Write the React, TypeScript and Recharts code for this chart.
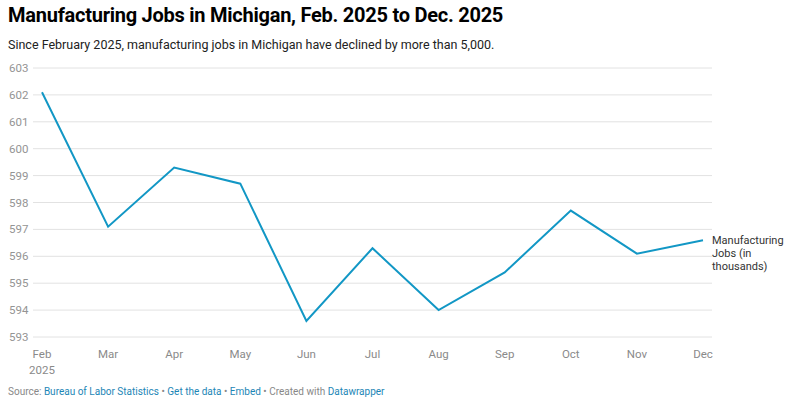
import { LineChart, Line, XAxis, YAxis, CartesianGrid, LabelList } from 'recharts'

const months = ['Feb', 'Mar', 'Apr', 'May', 'Jun', 'Jul', 'Aug', 'Sep', 'Oct', 'Nov', 'Dec']
const jobs = [602.1, 597.1, 599.3, 598.7, 593.6, 596.3, 594.0, 595.4, 597.7, 596.1, 596.6]
const yTicks = [593, 594, 595, 596, 597, 598, 599, 600, 601, 602, 603]
const seriesLabel = ['Manufacturing', 'Jobs (in', 'thousands)']

const data = months.map((m, i) => ({ month: m, value: jobs[i] }))

const FONT = 'Roboto, sans-serif'
const LINE = '#1297c5'

function YTick({ y, payload }: any) {
  return (
    <text x={9} y={y} dy={4} fill="#949494" fontSize={11.5} fontFamily={FONT} textAnchor="start">
      {payload.value}
    </text>
  )
}

function XTick({ x, y, payload, index }: any) {
  return (
    <g>
      <text x={x} y={y + 13} fill="#8a8a8a" fontSize={11.5} fontFamily={FONT} textAnchor="middle">
        {payload.value}
      </text>
      {index === 0 && (
        <text x={x} y={y + 29} fill="#8a8a8a" fontSize={11.5} fontFamily={FONT} textAnchor="middle">
          2025
        </text>
      )}
    </g>
  )
}

function EndLabel({ x, y, index }: any) {
  if (index !== data.length - 1) return null
  return (
    <text x={x + 9} y={y + 4} fill="#333" fontSize={11} fontFamily={FONT}>
      {seriesLabel.map((t, i) => (
        <tspan key={t} x={x + 9} dy={i === 0 ? 0 : 13}>
          {t}
        </tspan>
      ))}
    </text>
  )
}

export default function App() {
  return (
    <div style={{ position: 'fixed', left: 0, top: 0, width: 793, height: 401, background: '#fff', fontFamily: FONT }}>
      <div style={{ position: 'absolute', left: 0, top: 0 }}>
        <LineChart width={793} height={380} data={data} margin={{ top: 68, right: 81, bottom: 13, left: 0 }}>
          <CartesianGrid vertical={false} stroke="#e2e2e2" />
          <XAxis
            dataKey="month"
            axisLine={false}
            tickLine={false}
            padding={{ left: 9, right: 9 }}
            tick={<XTick />}
            height={30}
            interval={0}
          />
          <YAxis
            domain={[593, 603]}
            ticks={yTicks}
            axisLine={false}
            tickLine={false}
            width={33}
            tick={<YTick />}
          />
          <Line
            type="linear"
            dataKey="value"
            stroke={LINE}
            strokeWidth={2}
            dot={false}
            isAnimationActive={false}
          >
            <LabelList dataKey="value" content={<EndLabel />} />
          </Line>
        </LineChart>
      </div>
      <div style={{ position: 'absolute', left: 8, top: 3, fontSize: 20, fontWeight: 700, color: '#000', whiteSpace: 'nowrap', letterSpacing: -0.25 }}>
        Manufacturing Jobs in Michigan, Feb. 2025 to Dec. 2025
      </div>
      <div style={{ position: 'absolute', left: 8, top: 37, fontSize: 12.5, color: '#222', whiteSpace: 'nowrap' }}>
        Since February 2025, manufacturing jobs in Michigan have declined by more than 5,000.
      </div>
      <div style={{ position: 'absolute', left: 8, top: 386, fontSize: 10, color: '#888', whiteSpace: 'nowrap' }}>
        Source: <span style={{ color: '#1d86b6' }}>Bureau of Labor Statistics</span> •{' '}
        <span style={{ color: '#1d86b6' }}>Get the data</span> • <span style={{ color: '#1d86b6' }}>Embed</span>
        {'  '}• Created with <span style={{ color: '#1d86b6' }}>Datawrapper</span>
      </div>
    </div>
  )
}
